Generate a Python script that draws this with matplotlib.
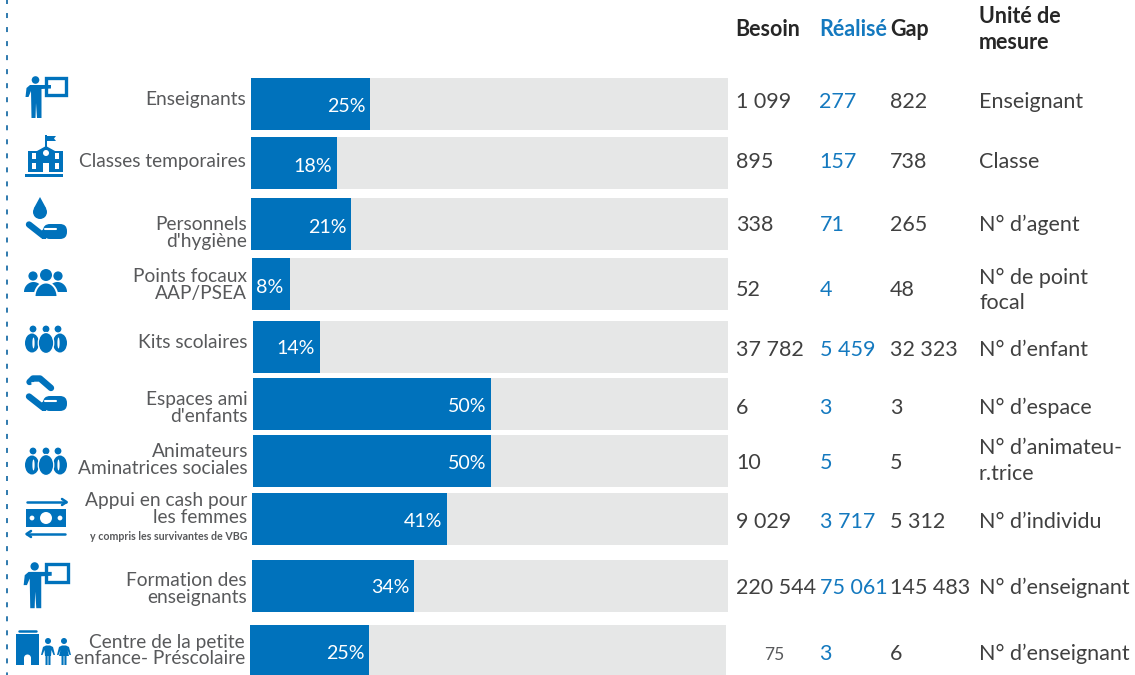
import matplotlib
matplotlib.use("Agg")
import matplotlib.pyplot as plt
import numpy as np
from matplotlib.patches import Circle, Rectangle, Polygon, FancyBboxPatch, Ellipse

# ---------- data ----------
percent = [25, 18, 21, 8, 14, 50, 50, 41, 34, 25]
besoin = ["1 099", "895", "338", "52", "37 782", "6", "10", "9 029", "220 544", "75"]
realise = ["277", "157", "71", "4", "5 459", "3", "5", "3 717", "75 061", "3"]
gap = ["822", "738", "265", "48", "32 323", "3", "5", "5 312", "145 483", "6"]
labels = [["Enseignants"], ["Classes temporaires"], ["Personnels", "d'hygiène"],
          ["Points focaux", "AAP/PSEA"], ["Kits scolaires"], ["Espaces ami", "d'enfants"],
          ["Animateurs", "Aminatrices sociales"], ["Appui en cash pour", "les femmes"],
          ["Formation des", "enseignants"], ["Centre de la petite", "enfance- Préscolaire"]]
units = [["Enseignant"], ["Classe"], ["N° d’agent"], ["N° de point", "focal"], ["N° d’enfant"],
         ["N° d’espace"], ["N° d’animateu-", "r.trice"], ["N° d’individu"],
         ["N° d’enseignant"], ["N° d’enseignant"]]
headers = ["Besoin", "Réalisé", "Gap"]
unit_header = ["Unité de", "mesure"]
note = "y compris les survivantes de VBG"

# ---------- layout (pixels) ----------
bar_left = [251, 251, 251, 252, 253, 253, 253, 252, 252, 250]
bar_top = [78, 137, 198, 258, 321, 378, 435, 493, 560, 625]
bar_h = [52, 52, 52, 52, 52, 52, 52, 52, 52, 50]
track_right = [728, 728, 728, 728, 728, 728, 728, 728, 728, 726]
full_w = 476
label_right = [246, 246, 247, 247, 248, 248, 248, 247, 247, 245]
label_base = [[105], [167], [230, 247], [282, 299], [348], [405, 422], [457, 474], [506, 523], [586, 603], [648, 664]]
pct_base = [112, 172, 233, 293, 354, 412, 469, 527, 593, 659]
row_base = [108, 168, 231, 296, 356, 414, 469, 528, 594, 660]
unit_base = [[108], [168], [231], [284, 309], [356], [414], [454, 480], [528], [594], [660]]

BLUE = "#0072BC"
GREY = "#E6E7E7"
LABEL = "#58595B"
TEXT = "#404040"
BLUET = "#1479BF"

plt.rcParams["font.family"] = ["Lato", "Open Sans", "DejaVu Sans"]
fig = plt.figure(figsize=(11.35, 6.75), dpi=100)
ax = fig.add_axes([0, 0, 1, 1])
ax.set_xlim(0, 1135)
ax.set_ylim(675, 0)
ax.axis("off")

ax.plot([7, 7], [-2.5, 675], color="#1F6FA8", lw=1.3, dashes=(2.77, 5))

LS = 13.8
VS = 15.5
PS = 14.1
HS = 15.5
for i, p in enumerate(percent):
    yc = bar_top[i] + bar_h[i] / 2
    ax.barh(yc, track_right[i] - bar_left[i], left=bar_left[i], height=bar_h[i], color=GREY, lw=0)
    ax.barh(yc, full_w * p / 100, left=bar_left[i], height=bar_h[i], color=BLUE, lw=0)
    right = bar_left[i] + full_w * p / 100
    if p == 8:
        ax.text(256, pct_base[i], f"{p}%", color="white", fontsize=PS, ha="left", va="baseline")
    else:
        ax.text(right - 4.5, pct_base[i], f"{p}%", color="white", fontsize=PS, ha="right", va="baseline")
    for line, b in zip(labels[i], label_base[i]):
        ax.text(label_right[i], b, line, color=LABEL, fontsize=LS, ha="right", va="baseline")
    if i == 9:
        ax.text(764, row_base[i], besoin[i], color=LABEL, fontsize=12.5, ha="left", va="baseline")
    else:
        ax.text(736, row_base[i], besoin[i], color=TEXT, fontsize=VS, ha="left", va="baseline")
    ax.text(819.5, row_base[i], realise[i], color=BLUET, fontsize=VS, ha="left", va="baseline")
    ax.text(890, row_base[i], gap[i], color=TEXT, fontsize=VS, ha="left", va="baseline")
    for line, b in zip(units[i], unit_base[i]):
        ax.text(979, b, line, color=TEXT, fontsize=VS, ha="left", va="baseline")

ax.text(247, 540, note, color=LABEL, fontsize=7.7, fontweight="bold", ha="right", va="baseline")

for x, h, c in zip([735.5, 819, 890], headers, ["#262626", BLUET, "#262626"]):
    ax.text(x, 36, h, color=c, fontsize=HS, fontweight="bold", ha="left", va="baseline")
for b, h in zip([23, 49], unit_header):
    ax.text(979, b, h, color="#262626", fontsize=HS, fontweight="bold", ha="left", va="baseline")


# ---------- pictograms (decoration, in pixel space) ----------
def circ(x, y, r, c=BLUE):
    ax.add_patch(Circle((x, y), r, fc=c, ec="none"))

def rect(x, y, w, h, c=BLUE):
    ax.add_patch(Rectangle((x, y), w, h, fc=c, ec="none"))

def poly(pts, c=BLUE):
    ax.add_patch(Polygon(pts, closed=True, fc=c, ec="none"))

def stroke(pts, lw=2.2, c=BLUE):
    ax.plot(*zip(*pts), color=c, lw=lw, solid_capstyle="round", solid_joinstyle="round")

def dome(cx, bottom, w, h, ec="none", lw=0):
    t = np.linspace(np.pi, 2 * np.pi, 40)
    pts = np.column_stack([cx + w / 2 * np.cos(t), bottom + h * np.sin(t)])
    ax.add_patch(Polygon(pts, closed=True, fc=BLUE, ec=ec, lw=lw))

def teacher(x, y, s=1.0):
    circ(x + 11.5 * s, y + 4 * s, 3.8 * s)
    ax.add_patch(Rectangle((x + 21.5 * s, y + 1.5 * s), 20 * s, 17 * s, fc="white", ec=BLUE, lw=2.4))
    poly([(x + 1.5 * s, y + 21 * s), (x + 2.5 * s, y + 12 * s), (x + 6 * s, y + 9 * s), (x + 17 * s, y + 9 * s),
          (x + 27 * s, y + 9 * s), (x + 27 * s, y + 12.5 * s), (x + 17.5 * s, y + 13 * s), (x + 17.5 * s, y + 42 * s),
          (x + 13 * s, y + 42 * s), (x + 12 * s, y + 27 * s), (x + 11.5 * s, y + 42 * s), (x + 7.5 * s, y + 42 * s),
          (x + 7 * s, y + 15 * s), (x + 4.5 * s, y + 21 * s)])

def school(x, y):
    rect(x + 2, y + 39, 38, 2.6)
    poly([(x + 5, y + 16), (x + 14, y + 16), (x + 23, y + 11), (x + 32, y + 16), (x + 40, y + 16),
          (x + 40, y + 37), (x + 5, y + 37)])
    rect(x + 22.2, y, 1.6, 12)
    poly([(x + 23, y + 1), (x + 33, y + 1), (x + 31, y + 3.5), (x + 33, y + 6), (x + 23, y + 6)])
    circ(x + 23, y + 18, 3, "white")
    for wx in (x + 9, x + 32):
        for wy in (y + 18, y + 28):
            rect(wx, wy, 3.6, 5.5, "white")
    rect(x + 20, y + 28, 5.5, 9, "white")

def hand(x, y):
    ax.add_patch(FancyBboxPatch((x + 18, y + 3), 24, 15, boxstyle="round,pad=0,rounding_size=7", fc=BLUE, ec="none"))
    stroke([(x + 4, y + 3.5), (x + 18, y + 14.5)], 4.6)
    poly([(x + 15, y + 11), (x + 21, y + 6), (x + 21, y + 18), (x + 17, y + 18)])
    stroke([(x + 20, y + 8), (x + 31, y + 8)], 1.5, "white")

def drop(x, y):
    circ(x, y + 15, 7)
    poly([(x - 6.3, y + 11.6), (x, y), (x + 6.3, y + 11.6)])

def people3(x, y):
    circ(x + 9, y + 6, 4.6)
    circ(x + 22, y + 5, 6)
    circ(x + 34, y + 6, 4.6)
    dome(x + 9.5, y + 22, 19, 10)
    dome(x + 33.5, y + 22, 19, 10)
    dome(x + 22, y + 27, 23, 14.5, ec="white", lw=1.4)

def crowd(x, y):
    for cx in (x + 8, x + 21, x + 33):
        circ(cx, y + 4, 3.4)
    for cx, sx in ((x + 7, x + 8.5), (x + 35, x + 33.5)):
        ax.add_patch(Ellipse((cx, y + 18), 14, 19, fc=BLUE, ec="none"))
        ax.add_patch(Ellipse((sx, y + 18), 2.2, 11, fc="white", ec="none"))
    ax.add_patch(Ellipse((x + 21, y + 18), 15.5, 21, fc=BLUE, ec="white", lw=0.9))

def cash(x, y):
    stroke([(x + 2, y + 3), (x + 41, y + 3)], 1.8)
    stroke([(x + 37, y), (x + 41.5, y + 3), (x + 37, y + 6)], 1.8)
    rect(x + 1, y + 10, 40, 18)
    circ(x + 21, y + 19, 6, "white")
    circ(x + 7, y + 19, 2.4, "white")
    circ(x + 35, y + 19, 2.4, "white")
    stroke([(x + 2, y + 35), (x + 40, y + 35)], 1.8)
    stroke([(x + 6, y + 32), (x + 1.5, y + 35), (x + 6, y + 38)], 1.8)

def preschool():
    rect(16, 634, 23, 31)
    stroke([(19, 630.5), (36, 630.5)], 1.8)
    rect(24, 658, 7, 7, "white")
    circ(27.5, 658, 3.5, "white")
    for cx, girl in ((48, False), (64, True)):
        circ(cx, 641, 3)
        poly([(cx - 7, 655), (cx - 5, 647), (cx - 2, 645.5), (cx + 2, 645.5), (cx + 5, 647), (cx + 7, 655), (cx + 5.5, 655),
              (cx + 3.5, 650), (cx + (5 if girl else 3), 656), (cx + 2.5, 656), (cx + 2.5, 665), (cx + .4, 665), (cx + .4, 656),
              (cx - .4, 656), (cx - .4, 665), (cx - 2.5, 665), (cx - 2.5, 656), (cx - (5 if girl else 3), 656),
              (cx - 3.5, 650), (cx - 5.5, 655)])

teacher(24, 76)
school(23, 135)
drop(40, 197)
hand(25, 221)
people3(24, 270)
crowd(25, 325)
hand(25, 393)
stroke([(29.5, 382), (33, 378.5), (40, 378.5), (51, 388)], 4.6)
stroke([(32, 382.8), (38, 382.8)], 1.3, "white")
crowd(25, 447)
cash(25, 499)
teacher(22, 562, 1.1)
preschool()

fig.savefig("out.png", dpi=100)
